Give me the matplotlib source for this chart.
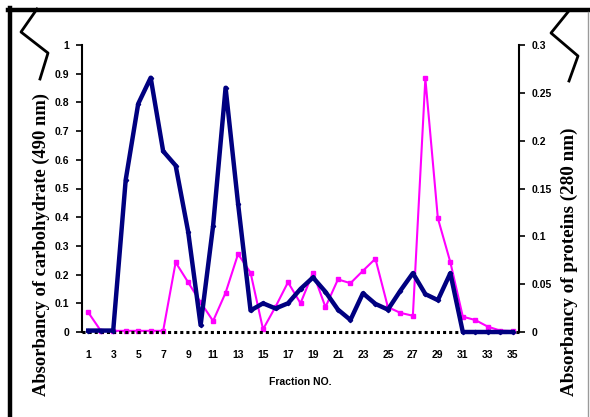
import numpy as np
import matplotlib
matplotlib.use("Agg")
import matplotlib.pyplot as plt
from matplotlib.lines import Line2D

# fraction numbers and absorbances
fractions = np.arange(1, 36)
carbohydrate = [0.005, 0.005, 0.005, 0.53, 0.795, 0.886, 0.63, 0.58, 0.35, 0.024,
                0.37, 0.851, 0.447, 0.075, 0.10, 0.082, 0.10, 0.15, 0.19, 0.14,
                0.078, 0.042, 0.135, 0.098, 0.078, 0.144, 0.205, 0.132, 0.111, 0.205,
                0.0, 0.0, 0.0, 0.0, 0.0]
protein = [0.0205, 0.0014, 0.0012, 0.0012, 0.0012, 0.0012, 0.0012, 0.0728, 0.052, 0.031,
           0.0115, 0.041, 0.0815, 0.062, 0.0028, 0.0264, 0.052, 0.030, 0.062, 0.026,
           0.055, 0.051, 0.064, 0.0766, 0.026, 0.020, 0.017, 0.265, 0.119, 0.073,
           0.016, 0.0125, 0.0056, 0.0015, 0.001]
left_ticks = [0, 0.1, 0.2, 0.3, 0.4, 0.5, 0.6, 0.7, 0.8, 0.9, 1]
left_labels = ["0", "0.1", "0.2", "0.3", "0.4", "0.5", "0.6", "0.7", "0.8", "0.9", "1"]
right_ticks = [0, 0.05, 0.1, 0.15, 0.2, 0.25, 0.3]
right_labels = ["0", "0.05", "0.1", "0.15", "0.2", "0.25", "0.3"]
x_ticks = list(range(1, 36, 2))

W, H = 590, 417
fig = plt.figure(figsize=(W / 100, H / 100), dpi=100)
ax = fig.add_axes([82 / W, 1 - 332 / H, (519 - 82) / W, (332 - 45) / H])
ax2 = ax.twinx()

tick_font = dict(family="Liberation Sans", weight="bold", size=7.5)
label_font = dict(family="Liberation Serif", weight="bold")

ax.plot(fractions, carbohydrate, color="#000080", lw=3.2, marker="D", ms=2.2,
        zorder=3, clip_on=False)
ax2.plot(fractions, protein, color="#ff00ff", lw=1.5, marker="s", ms=3.0,
         zorder=3, clip_on=False)

ax.set_xlim(0.5, 35.5)
ax.set_ylim(0, 1)
ax2.set_ylim(0, 0.3)
ax.set_zorder(ax2.get_zorder() + 1)
ax.patch.set_visible(False)

# axis frames
for a in (ax, ax2):
    for s in ("top", "bottom"):
        a.spines[s].set_visible(False)
ax.spines["right"].set_visible(False)
ax2.spines["left"].set_visible(False)
ax.spines["left"].set_linewidth(1.5)
ax2.spines["right"].set_linewidth(1.5)
ax.axhline(0, color="black", lw=2.2, ls=(0, (1.0, 1.0)), zorder=2, clip_on=False)

ax.set_yticks(left_ticks, left_labels, fontdict=tick_font)
ax2.set_yticks(right_ticks, right_labels, fontdict=tick_font)
ax.set_xticks(x_ticks, [str(v) for v in x_ticks], fontdict=tick_font)
ax.tick_params(axis="y", direction="out", length=4, width=1.2, pad=5)
ax2.tick_params(axis="y", direction="out", length=4, width=1.2, pad=5)
ax.tick_params(axis="x", length=0, pad=13)

fig.text(300 / W, 1 - 382 / H, "Fraction NO.", ha="center", va="center",
         family="Liberation Sans", weight="bold", size=7.5)
fig.text(41 / W, 1 - 244 / H, "Absorbancy of carbohydrate (490 nm)", rotation=90,
         ha="center", va="center", size=13.3, **label_font)
fig.text(569 / W, 1 - 262 / H, "Absorbancy of proteins (280 nm)", rotation=90,
         ha="center", va="center", size=13.8, **label_font)

# outer frame and zigzag break marks
def px_line(xs, ys, **kw):
    fig.add_artist(Line2D([x / W for x in xs], [1 - y / H for y in ys],
                          transform=fig.transFigure, **kw))

px_line([10, 10], [8, 417], color="black", lw=3.2)
px_line([8, 590], [9.5, 9.5], color="black", lw=3.2)
px_line([588, 588], [12, 417], color="#9a9a9a", lw=1.0)
px_line([37, 21, 48, 40], [9, 32, 53, 79], color="black", lw=2.0)
px_line([568, 551, 578, 569], [12, 33, 56, 81], color="black", lw=2.0)

fig.savefig("out.png", dpi=100, facecolor="white")
